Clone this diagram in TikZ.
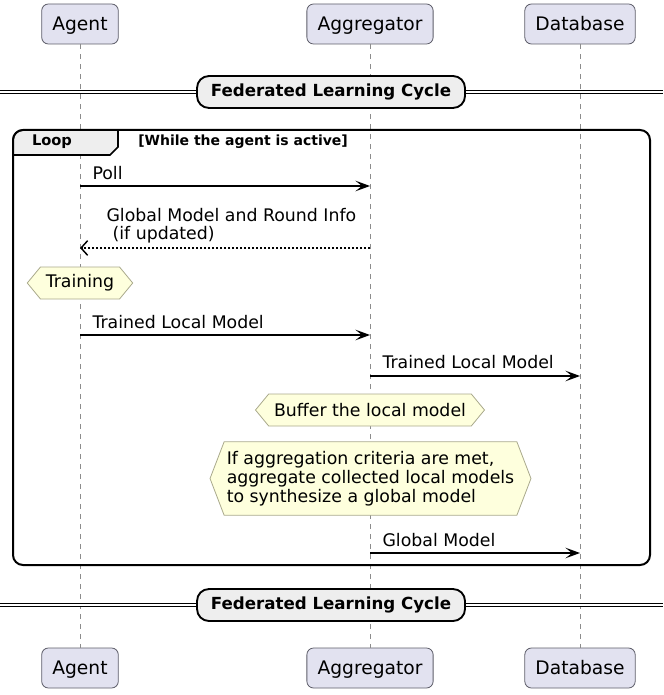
\documentclass[tikz,border=0pt]{standalone}
\usepackage{fontspec}
\setmainfont{DejaVu Sans}
\usetikzlibrary{arrows.meta,shapes.symbols,positioning}
\definecolor{partfill}{HTML}{E2E2F0}
\definecolor{partline}{HTML}{5E5E6A}
\definecolor{notefill}{HTML}{FEFFDD}
\definecolor{noteline}{HTML}{A9A98C}
\definecolor{grpfill}{HTML}{EEEEEE}
\definecolor{lifegray}{HTML}{8C8C8C}
\tikzset{
  participant/.style={draw=partline, fill=partfill, line width=0.6pt, rounded corners=5pt,
    minimum height=30pt, inner xsep=8pt, text height=12pt, text depth=2pt,
    font=\fontsize{14}{16}\selectfont},
  lifeline/.style={draw=lifegray, line width=0.6pt, dash pattern=on 3.75pt off 3.75pt},
  msg/.style={-{Stealth[length=11pt,width=8pt,inset=5pt]}, line width=0.8pt},
  reply/.style={-{Straight Barb[length=5pt,width=11pt,line width=1.1pt]}, line width=0.8pt, dash pattern=on 1.5pt off 1.5pt},
  msglabel/.style={inner sep=0pt, font=\fontsize{13}{13.5}\selectfont, align=left},
  hexnote/.style={signal, signal to=east and west, draw=noteline, fill=notefill, line width=0.6pt,
    inner xsep=4pt, inner ysep=2pt, font=\fontsize{13}{14.25}\selectfont, align=left},
  divider/.style={draw, fill=grpfill, line width=1.4pt, rounded corners=9pt,
    minimum width=201pt, minimum height=24pt, font=\bfseries\fontsize{12.5}{14}\selectfont},
  divline/.style={draw=black, double=white, double distance=1.9pt, line width=0.9pt},
  grouptext/.style={inner sep=0pt, font=\bfseries\fontsize{10.5}{12}\selectfont},
}
\begin{document}
\begin{tikzpicture}[x=0.75pt, y=-0.75pt]
  \useasboundingbox (0,0) rectangle (663,695);

  \node[participant] (agT) at (80,24) {Agent};
  \node[participant] (grT) at (370,24) {Aggregator};
  \node[participant] (dbT) at (580,24) {Database};
  \node[participant] (agB) at (80,668) {Agent};
  \node[participant] (grB) at (370,668) {Aggregator};
  \node[participant] (dbB) at (580,668) {Database};

  \draw[lifeline] (agT) -- (agB);
  \draw[lifeline] (grT) -- (grB);
  \draw[lifeline] (dbT) -- (dbB);

  \coordinate (lefttop) at (0,92);
  \coordinate (righttop) at (663,92);
  \coordinate (leftbot) at (0,605);
  \coordinate (rightbot) at (663,605);
  \draw[divline] (lefttop) -- (righttop);
  \draw[divline] (leftbot) -- (rightbot);
  \node[divider] (cycletop) at (331,92) {Federated Learning Cycle};
  \node[divider] (cyclebot) at (331,605) {Federated Learning Cycle};

  \draw[fill=grpfill, line width=1.2pt] (13,155) [rounded corners=7.5pt] -- (13,130) -- (60,130)
    [sharp corners] -- (118,130) -- (118,147) -- (110,155) -- cycle;
  \draw[line width=1.5pt, rounded corners=7.5pt] (13,130) rectangle (650,565);
  \node[grouptext, font=\bfseries\fontsize{11}{12}\selectfont] (looptab) at (52,142) {Loop};
  \node[grouptext, anchor=west] (loopcond) at (138,142) {[While the agent is active]};

  \draw[msg] (agT |- 0,186) -- (grT |- 0,186)
    node[msglabel, pos=0, anchor=base west, xshift=9pt, yshift=4.9pt] (poll) {Poll};
  \draw[reply] (grT |- 0,248) -- (agT |- 0,248)
    node[msglabel, pos=1, anchor=south west, xshift=19.5pt, yshift=3.4pt] (update)
    {Global Model and Round Info\\\hspace*{0.35em}(if updated)};

  \node[hexnote, signal pointer angle=101, minimum height=24pt] (train) at (agT |- 0,283) {Training};

  \draw[msg] (agT |- 0,335) -- (grT |- 0,335)
    node[msglabel, pos=0, anchor=base west, xshift=9pt, yshift=4.9pt] (sendlocal) {Trained Local Model};
  \draw[msg] (grT |- 0,376) -- (dbT |- 0,376)
    node[msglabel, pos=0, anchor=base west, xshift=9pt, yshift=5.5pt] (storelocal) {Trained Local Model};

  \node[hexnote, signal pointer angle=101, minimum height=24pt] (buffer) at (grT |- 0,410) {Buffer the local model};
  \node[hexnote, signal pointer angle=138, minimum height=55pt, inner xsep=2pt] (aggregate) at (370.5,478.5)
    {If aggregation criteria are met,\\aggregate collected local models\\to synthesize a global model};

  \draw[msg] (grT |- 0,553) -- (dbT |- 0,553)
    node[msglabel, pos=0, anchor=base west, xshift=9pt, yshift=4.9pt] (storeglobal) {Global Model};
\end{tikzpicture}
\end{document}
